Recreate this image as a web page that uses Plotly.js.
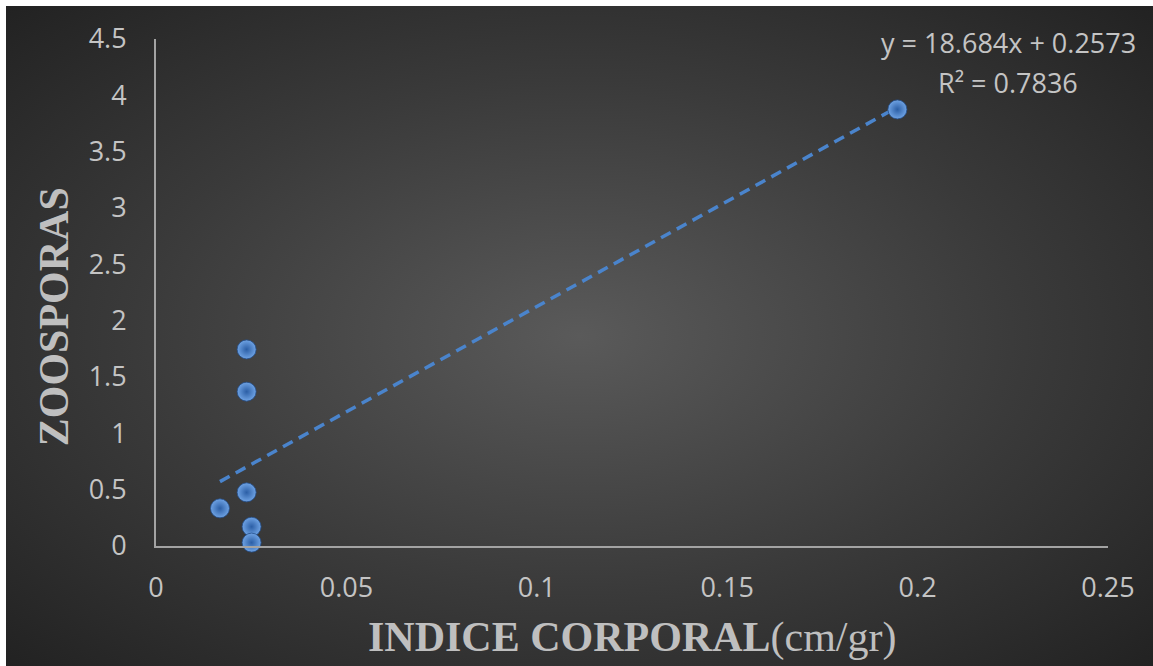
<!DOCTYPE html>
<html>
<head>
<meta charset="utf-8">
<script src="https://cdn.plot.ly/plotly-3.0.1.min.js"></script>
<style>
  html, body { margin: 0; padding: 0; background: #ffffff; }
  #wrap { position: relative; width: 1153px; height: 666px; overflow: hidden; }
  #bg {
    position: absolute; left: 6px; top: 6px; right: 0; bottom: 0;
    background: radial-gradient(ellipse farthest-corner at 50% 50%, #5a5a5a 0%, #3a3a3a 55%, #222222 100%);
  }
  #chart { position: absolute; left: 0; top: 0; width: 1153px; height: 666px; }
</style>
</head>
<body>
<div id="wrap">
  <div id="bg"></div>
  <div id="chart"></div>
</div>
<script>
// Body index (cm/gr) against zoospore count
const indiceCorporal = [0.0238, 0.0238, 0.0238, 0.0168, 0.0251, 0.0251, 0.1947];
const zoosporas      = [1.745, 1.370, 0.476, 0.334, 0.171, 0.030, 3.875];

// Linear trend line reported on the chart
const slope = 18.684;
const intercept = 0.2573;
const rSquared = 0.7836;

const xTicks = [0, 0.05, 0.1, 0.15, 0.2, 0.25];
const xTickText = ['0', '0.05', '0.1', '0.15', '0.2', '0.25'];
const yTicks = [0, 0.5, 1, 1.5, 2, 2.5, 3, 3.5, 4, 4.5];
const yTickText = ['0', '0.5', '1', '1.5', '2', '2.5', '3', '3.5', '4', '4.5'];

const xMin = Math.min(...indiceCorporal);
const xMax = Math.max(...indiceCorporal);
const trendX = [xMin, xMax];
const trendY = trendX.map(v => slope * v + intercept);

const tickFont = { family: 'Open Sans, sans-serif', size: 27, color: '#c4c4c4' };
const titleFont = { family: 'Liberation Serif, Times New Roman, serif', size: 42, color: '#bfbfbf' };

const traces = [
  {
    x: trendX, y: trendY, type: 'scatter', mode: 'lines',
    line: { color: '#4a84cc', width: 3.5, dash: '11px,7px' },
    hoverinfo: 'skip', showlegend: false
  },
  {
    x: indiceCorporal, y: zoosporas, type: 'scatter', mode: 'markers',
    marker: {
      size: 19,
      color: '#6fa3e4',
      gradient: { type: 'radial', color: '#2c5fa6' },
      line: { color: '#244f8c', width: 0.8 }
    },
    showlegend: false, cliponaxis: false
  }
];

const layout = {
  width: 1153, height: 666,
  paper_bgcolor: 'rgba(0,0,0,0)',
  plot_bgcolor: 'rgba(0,0,0,0)',
  margin: { l: 156, r: 45.3, t: 38.6, b: 120.3, pad: 0 },
  showlegend: false,
  xaxis: {
    range: [0, 0.25], tickvals: xTicks, ticktext: xTickText,
    showgrid: false, zeroline: false, ticks: '',
    showline: true, linecolor: '#a3a3a3', linewidth: 2,
    tickfont: tickFont, ticklabelstandoff: 17, fixedrange: true
  },
  yaxis: {
    range: [0, 4.5], tickvals: yTicks, ticktext: yTickText,
    showgrid: false, zeroline: false, ticks: '',
    showline: true, linecolor: '#a3a3a3', linewidth: 2,
    tickfont: tickFont, ticklabelstandoff: 22, fixedrange: true
  },
  annotations: [
    {
      text: '<b>ZOOSPORAS</b>', textangle: -90,
      xref: 'paper', yref: 'paper', x: -0.1072, y: 0.453,
      xanchor: 'center', yanchor: 'middle', showarrow: false,
      font: titleFont
    },
    {
      text: '<b>INDICE CORPORAL</b>(cm/gr)',
      xref: 'paper', yref: 'paper', x: 0.5, y: -0.18,
      xanchor: 'center', yanchor: 'middle', showarrow: false,
      font: titleFont
    },
    {
      text: 'y = ' + slope.toFixed(3) + 'x + ' + intercept.toFixed(4),
      xref: 'paper', yref: 'paper', x: 0.8952, y: 0.9933,
      xanchor: 'center', yanchor: 'middle', showarrow: false,
      font: tickFont
    },
    {
      text: 'R\u00B2 = ' + rSquared.toFixed(4),
      xref: 'paper', yref: 'paper', x: 0.8952, y: 0.9144,
      xanchor: 'center', yanchor: 'middle', showarrow: false,
      font: tickFont
    }
  ]
};

Plotly.newPlot('chart', traces, layout, { displayModeBar: false, staticPlot: true });
</script>
</body>
</html>
